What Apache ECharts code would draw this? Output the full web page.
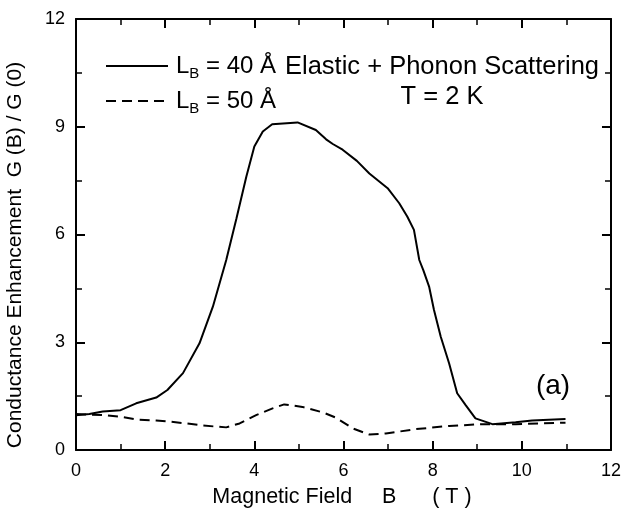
<!DOCTYPE html>
<html><head><meta charset="utf-8">
<script src="https://cdn.jsdelivr.net/npm/echarts@6/dist/echarts.min.js"></script>
<style>html,body{margin:0;background:#fff}#c{width:624px;height:520px}</style>
</head><body><div id="c"></div>
<script>
// Data
const fieldLB40 = [0,0.3,0.6,1.0,1.35,1.8,2.05,2.4,2.77,3.07,3.37,3.6,3.82,4.0,4.19,4.4,4.97,5.38,5.61,5.76,5.98,6.3,6.58,6.99,7.25,7.43,7.58,7.7,7.79,7.92,8.03,8.18,8.37,8.55,8.74,8.96,9.34,9.86,10.23,10.98];
const gLB40 = [0.97,1.0,1.07,1.11,1.30,1.46,1.67,2.14,2.97,3.99,5.29,6.45,7.61,8.45,8.87,9.07,9.12,8.91,8.65,8.52,8.36,8.05,7.70,7.29,6.87,6.50,6.13,5.29,5.01,4.55,3.90,3.16,2.41,1.58,1.25,0.88,0.72,0.77,0.82,0.86];
const fieldLB50 = [0,0.61,0.98,1.36,1.8,2.1,2.48,2.85,3.37,3.67,4.04,4.41,4.67,5.08,5.53,5.83,6.21,6.58,6.95,7.62,8.37,9.12,9.86,10.98];
const gLB50 = [1.0,0.97,0.93,0.85,0.82,0.79,0.74,0.68,0.63,0.74,0.97,1.16,1.27,1.20,1.05,0.90,0.60,0.43,0.46,0.58,0.67,0.72,0.72,0.76];
const seriesNames = ['40 Å', '50 Å'];
const xRange = [0, 12], xStep = 2;
const yRange = [0, 12], yStep = 3;
const xTitle = 'Magnetic Field     B      ( T )';
const yTitle = 'Conductance Enhancement  G (B) / G (0)';
const noteText = 'Elastic + Phonon Scattering\nT = 2 K';
const panelLabel = '(a)';

const FONT = "'Liberation Sans', Arial, Helvetica, sans-serif";
const zip = (xs, ys) => xs.map((x, i) => [x, ys[i]]);

function axis(pos, isX, showLabel) {
  return {
    type: 'value', position: pos,
    min: isX ? xRange[0] : yRange[0], max: isX ? xRange[1] : yRange[1],
    interval: isX ? xStep : yStep,
    axisLine: { show: true, onZero: false, lineStyle: { color: '#000', width: 2 } },
    axisTick: { show: true, inside: true, length: 9, lineStyle: { color: '#000', width: 2 } },
    minorTick: { show: true, splitNumber: 2, length: 6, lineStyle: { color: '#000', width: 1.5 } },
    axisLabel: { show: showLabel, color: '#000', fontSize: 18, fontFamily: FONT, margin: isX ? 12 : 11 },
    splitLine: { show: false }, minorSplitLine: { show: false }
  };
}

const chart = echarts.init(document.getElementById('c'), null, { renderer: 'canvas' });
chart.setOption({
  animation: false,
  backgroundColor: '#fff',
  grid: { left: 76, right: 12, top: 19, bottom: 70, containLabel: false },
  xAxis: [axis('bottom', true, true), axis('top', true, false)],
  yAxis: [axis('left', false, true), axis('right', false, false)],
  legend: {
    orient: 'vertical', left: 105, top: 50, padding: 0,
    itemWidth: 62, itemHeight: 14, itemGap: 4,
    icon: 'inherit',
    itemStyle: { opacity: 0 },
    data: seriesNames,
    formatter: n => '{n|L}{s|B}{n| = ' + n + '}',
    textStyle: {
      color: '#000', fontFamily: FONT, padding: [0, 0, 0, 3],
      rich: {
        n: { fontSize: 24, fontFamily: FONT, color: '#000', lineHeight: 30 },
        s: { fontSize: 15, fontFamily: FONT, color: '#000', verticalAlign: 'bottom', lineHeight: 30, padding: [16, 0, 0, 0] }
      }
    }
  },
  series: [
    { name: seriesNames[0], type: 'line', symbol: 'none', data: zip(fieldLB40, gLB40),
      lineStyle: { color: '#000', width: 2, type: 'solid' }, itemStyle: { color: '#000' } },
    { name: seriesNames[1], type: 'line', symbol: 'none', data: zip(fieldLB50, gLB50),
      lineStyle: { color: '#000', width: 2, type: [10, 6] }, itemStyle: { color: '#000' } }
  ],
  graphic: [
    { type: 'text', x: 15, y: 255, rotation: Math.PI / 2,
      style: { text: yTitle, fontSize: 21, fontFamily: FONT, fill: '#000', align: 'center', verticalAlign: 'middle' } },
    { type: 'text', x: 342, y: 497,
      style: { text: xTitle, fontSize: 21.5, fontFamily: FONT, fill: '#000', align: 'center', verticalAlign: 'middle' } },
    { type: 'text', x: 442, y: 52,
      style: { text: noteText, fontSize: 25.5, lineHeight: 30, fontFamily: FONT, fill: '#000', align: 'center', verticalAlign: 'top' } },
    { type: 'text', x: 553, y: 386,
      style: { text: panelLabel, fontSize: 28, fontFamily: FONT, fill: '#000', align: 'center', verticalAlign: 'middle' } }
  ]
});
</script></body></html>
